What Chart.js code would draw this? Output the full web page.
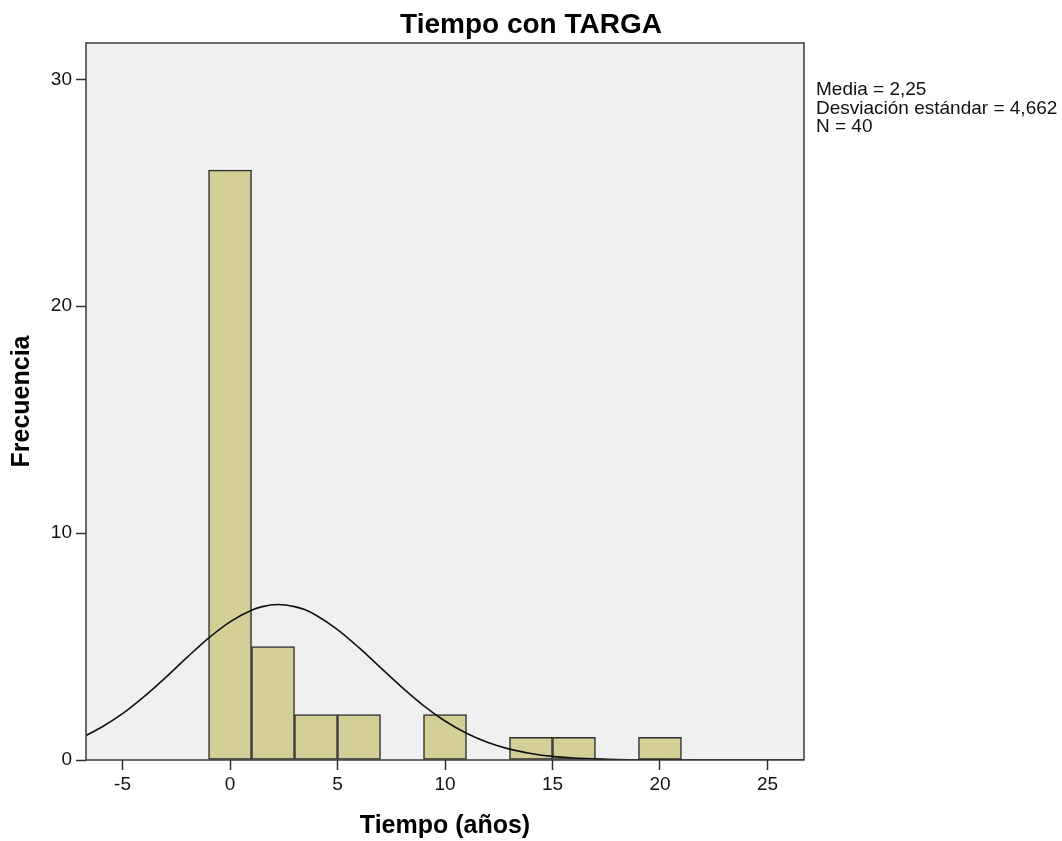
<!DOCTYPE html>
<html>
<head>
<meta charset="utf-8">
<script src="https://cdn.jsdelivr.net/npm/chart.js@4/dist/chart.umd.min.js"></script>
<style>
  html, body { margin: 0; padding: 0; background: #ffffff; }
  #wrap { position: relative; width: 1062px; height: 841px; }
</style>
</head>
<body>
<div id="wrap"><canvas id="hist" width="1062" height="841"></canvas></div>
<script>
// Histogram bins (center of each 2-year bin) and their counts
const binCenters = [0, 2, 4, 6, 10, 14, 16, 20];
const binCounts  = [26, 5, 2, 2, 2, 1, 1, 1];

// Fitted normal curve, read at these x positions
const curveX = [-6.7, -6, -5, -4, -3, -2, -1, 0, 1, 1.5, 2.25, 3, 3.5, 4, 5, 6, 7, 8, 9, 10, 11, 12, 13, 14, 15, 16, 17, 18, 19, 20, 22, 24, 26.7];
const curveY = [1.08, 1.43, 2.04, 2.79, 3.63, 4.52, 5.37, 6.09, 6.60, 6.76, 6.85, 6.76, 6.62, 6.38, 5.75, 4.95, 4.07, 3.20, 2.40, 1.72, 1.18, 0.77, 0.48, 0.29, 0.16, 0.09, 0.05, 0.02, 0.01, 0.005, 0.001, 0, 0];

// Axis tick labels
const xTicks = [-5, 0, 5, 10, 15, 20, 25];
const yTicks = [0, 10, 20, 30];

// Chart title and summary statistics shown beside the plot
const titleText = 'Tiempo con TARGA';
const statLines = ['Media = 2,25', 'Desviación estándar = 4,662', 'N = 40'];

const FONT = "'Liberation Sans', Arial, sans-serif";

const plotFrame = {
  id: 'plotFrame',
  beforeDraw(chart) {
    const a = chart.chartArea, ctx = chart.ctx;
    ctx.save();
    ctx.fillStyle = '#f0f0f0';
    ctx.fillRect(a.left, a.top, a.right - a.left, a.bottom - a.top);
    ctx.restore();
  },
  afterDraw(chart) {
    const a = chart.chartArea, ctx = chart.ctx;
    ctx.save();
    ctx.strokeStyle = '#3a3a3a';
    ctx.lineWidth = 1.5;
    ctx.strokeRect(a.left, a.top, a.right - a.left, a.bottom - a.top);
    // title, centered on the whole canvas
    ctx.fillStyle = '#000000';
    ctx.font = 'bold 28px ' + FONT;
    ctx.textAlign = 'center';
    ctx.textBaseline = 'alphabetic';
    ctx.fillText(titleText, chart.width / 2, 33);
    // statistics block
    ctx.fillStyle = '#111111';
    ctx.font = '19px ' + FONT;
    ctx.textAlign = 'left';
    statLines.forEach((t, i) => ctx.fillText(t, 816, 95 + i * 18.5));
    ctx.restore();
  }
};

const tickSetter = list => scale => { scale.ticks = list.map(v => ({ value: v })); };

new Chart(document.getElementById('hist'), {
  type: 'bar',
  data: {
    datasets: [
      {
        type: 'line',
        data: curveX.map((x, i) => ({ x: x, y: curveY[i] })),
        borderColor: '#111111',
        borderWidth: 1.6,
        pointRadius: 0,
        fill: false,
        cubicInterpolationMode: 'monotone',
        order: 0
      },
      {
        type: 'bar',
        data: binCenters.map((x, i) => ({ x: x, y: binCounts[i] })),
        backgroundColor: '#d3cf96',
        borderColor: '#2e2e2e',
        borderWidth: 1.5,
        borderSkipped: false,
        barPercentage: 1,
        categoryPercentage: 1,
        order: 1
      }
    ]
  },
  options: {
    responsive: false,
    animation: false,
    layout: { padding: { left: 0, right: 258, top: 43, bottom: 0 } },
    plugins: {
      legend: { display: false },
      tooltip: { enabled: false },
      title: { display: false }
    },
    scales: {
      x: {
        type: 'linear',
        min: -6.7,
        max: 26.7,
        offset: false,
        afterBuildTicks: tickSetter(xTicks),
        afterFit(scale) { scale.height = 81; },
        grid: { display: true, drawOnChartArea: false, drawTicks: true, tickLength: 10, tickWidth: 1.5, tickColor: '#2e2e2e', offset: false },
        border: { display: false },
        ticks: { color: '#111111', padding: 3, maxRotation: 0, font: { family: FONT, size: 19 } },
        title: { display: true, text: 'Tiempo (años)', color: '#000000', padding: { top: 0, bottom: 0 }, font: { family: FONT, size: 25, weight: 'bold', lineHeight: 1.2 } }
      },
      y: {
        type: 'linear',
        min: 0,
        max: 31.6,
        afterBuildTicks: tickSetter(yTicks),
        afterFit(scale) { scale.width = 86; },
        grid: { display: true, drawOnChartArea: false, drawTicks: true, tickLength: 10, tickWidth: 1.5, tickColor: '#2e2e2e' },
        border: { display: false },
        ticks: { color: '#111111', padding: 4, font: { family: FONT, size: 19 } },
        title: { display: true, text: 'Frecuencia', color: '#000000', padding: { top: 7, bottom: 0 }, font: { family: FONT, size: 25, weight: 'bold', lineHeight: 1.2 } }
      }
    }
  },
  plugins: [plotFrame]
});
</script>
</body>
</html>
